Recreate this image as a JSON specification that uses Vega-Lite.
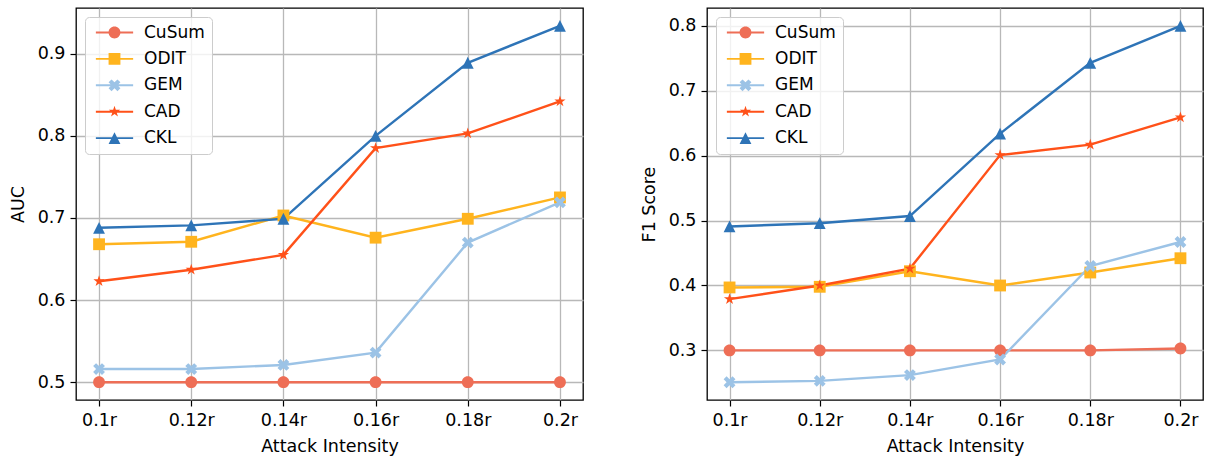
{
  "$schema": "https://vega.github.io/schema/vega-lite/v6.json",
  "padding": {"left": 8, "top": 7, "right": 8, "bottom": 2},
  "bounds": "flush",
  "spacing": 124,
  "data": {
    "values": [
      {"metric": "AUC", "intensity": "0.1r", "method": "CuSum", "value": 0.5},
      {"metric": "AUC", "intensity": "0.12r", "method": "CuSum", "value": 0.5},
      {"metric": "AUC", "intensity": "0.14r", "method": "CuSum", "value": 0.5},
      {"metric": "AUC", "intensity": "0.16r", "method": "CuSum", "value": 0.5},
      {"metric": "AUC", "intensity": "0.18r", "method": "CuSum", "value": 0.5},
      {"metric": "AUC", "intensity": "0.2r", "method": "CuSum", "value": 0.5},
      {"metric": "AUC", "intensity": "0.1r", "method": "ODIT", "value": 0.668},
      {"metric": "AUC", "intensity": "0.12r", "method": "ODIT", "value": 0.671},
      {"metric": "AUC", "intensity": "0.14r", "method": "ODIT", "value": 0.703},
      {"metric": "AUC", "intensity": "0.16r", "method": "ODIT", "value": 0.676},
      {"metric": "AUC", "intensity": "0.18r", "method": "ODIT", "value": 0.699},
      {"metric": "AUC", "intensity": "0.2r", "method": "ODIT", "value": 0.725},
      {"metric": "AUC", "intensity": "0.1r", "method": "GEM", "value": 0.516},
      {"metric": "AUC", "intensity": "0.12r", "method": "GEM", "value": 0.516},
      {"metric": "AUC", "intensity": "0.14r", "method": "GEM", "value": 0.521},
      {"metric": "AUC", "intensity": "0.16r", "method": "GEM", "value": 0.536},
      {"metric": "AUC", "intensity": "0.18r", "method": "GEM", "value": 0.670},
      {"metric": "AUC", "intensity": "0.2r", "method": "GEM", "value": 0.719},
      {"metric": "AUC", "intensity": "0.1r", "method": "CAD", "value": 0.623},
      {"metric": "AUC", "intensity": "0.12r", "method": "CAD", "value": 0.637},
      {"metric": "AUC", "intensity": "0.14r", "method": "CAD", "value": 0.655},
      {"metric": "AUC", "intensity": "0.16r", "method": "CAD", "value": 0.785},
      {"metric": "AUC", "intensity": "0.18r", "method": "CAD", "value": 0.803},
      {"metric": "AUC", "intensity": "0.2r", "method": "CAD", "value": 0.842},
      {"metric": "AUC", "intensity": "0.1r", "method": "CKL", "value": 0.688},
      {"metric": "AUC", "intensity": "0.12r", "method": "CKL", "value": 0.691},
      {"metric": "AUC", "intensity": "0.14r", "method": "CKL", "value": 0.699},
      {"metric": "AUC", "intensity": "0.16r", "method": "CKL", "value": 0.800},
      {"metric": "AUC", "intensity": "0.18r", "method": "CKL", "value": 0.889},
      {"metric": "AUC", "intensity": "0.2r", "method": "CKL", "value": 0.934},
      {"metric": "F1", "intensity": "0.1r", "method": "CuSum", "value": 0.300},
      {"metric": "F1", "intensity": "0.12r", "method": "CuSum", "value": 0.300},
      {"metric": "F1", "intensity": "0.14r", "method": "CuSum", "value": 0.300},
      {"metric": "F1", "intensity": "0.16r", "method": "CuSum", "value": 0.300},
      {"metric": "F1", "intensity": "0.18r", "method": "CuSum", "value": 0.300},
      {"metric": "F1", "intensity": "0.2r", "method": "CuSum", "value": 0.303},
      {"metric": "F1", "intensity": "0.1r", "method": "ODIT", "value": 0.397},
      {"metric": "F1", "intensity": "0.12r", "method": "ODIT", "value": 0.398},
      {"metric": "F1", "intensity": "0.14r", "method": "ODIT", "value": 0.422},
      {"metric": "F1", "intensity": "0.16r", "method": "ODIT", "value": 0.400},
      {"metric": "F1", "intensity": "0.18r", "method": "ODIT", "value": 0.420},
      {"metric": "F1", "intensity": "0.2r", "method": "ODIT", "value": 0.442},
      {"metric": "F1", "intensity": "0.1r", "method": "GEM", "value": 0.251},
      {"metric": "F1", "intensity": "0.12r", "method": "GEM", "value": 0.253},
      {"metric": "F1", "intensity": "0.14r", "method": "GEM", "value": 0.262},
      {"metric": "F1", "intensity": "0.16r", "method": "GEM", "value": 0.286},
      {"metric": "F1", "intensity": "0.18r", "method": "GEM", "value": 0.430},
      {"metric": "F1", "intensity": "0.2r", "method": "GEM", "value": 0.467},
      {"metric": "F1", "intensity": "0.1r", "method": "CAD", "value": 0.379},
      {"metric": "F1", "intensity": "0.12r", "method": "CAD", "value": 0.400},
      {"metric": "F1", "intensity": "0.14r", "method": "CAD", "value": 0.426},
      {"metric": "F1", "intensity": "0.16r", "method": "CAD", "value": 0.601},
      {"metric": "F1", "intensity": "0.18r", "method": "CAD", "value": 0.617},
      {"metric": "F1", "intensity": "0.2r", "method": "CAD", "value": 0.659},
      {"metric": "F1", "intensity": "0.1r", "method": "CKL", "value": 0.491},
      {"metric": "F1", "intensity": "0.12r", "method": "CKL", "value": 0.496},
      {"metric": "F1", "intensity": "0.14r", "method": "CKL", "value": 0.507},
      {"metric": "F1", "intensity": "0.16r", "method": "CKL", "value": 0.634},
      {"metric": "F1", "intensity": "0.18r", "method": "CKL", "value": 0.743},
      {"metric": "F1", "intensity": "0.2r", "method": "CKL", "value": 0.800}
    ]
  },
  "hconcat": [
    {
      "width": 507,
      "height": 392,
      "transform": [{"filter": "datum.metric === 'AUC'"}],
      "encoding": {
        "x": {
          "field": "intensity", "type": "ordinal",
          "sort": ["0.1r", "0.12r", "0.14r", "0.16r", "0.18r", "0.2r"],
          "scale": {"type": "point", "padding": 0.25},
          "axis": {"title": "Attack Intensity", "labelAngle": 0}
        },
        "y": {
          "field": "value", "type": "quantitative",
          "scale": {"domain": [0.4783, 0.9557], "nice": false, "zero": false},
          "axis": {"title": "AUC", "values": [0.5, 0.6, 0.7, 0.8, 0.9], "format": ".1f"}
        },
        "color": {
          "field": "method", "type": "nominal",
          "scale": {"domain": ["CuSum", "ODIT", "GEM", "CAD", "CKL"], "range": ["#EE6E56", "#FFB41E", "#9CC3E6", "#FF5119", "#2E74B7"]},
          "legend": {
            "title": null, "orient": "top-left", "offset": 9,
            "labelFontSize": 17, "labelColor": "black",
            "fillColor": "rgba(255,255,255,0.8)", "strokeColor": "#cccccc", "cornerRadius": 4,
            "padding": 7, "rowPadding": 8.4, "symbolSize": 140, "symbolStrokeWidth": 0,
            "symbolOpacity": 1, "symbolOffset": 14, "labelOffset": 21
          }
        }
      },
      "layer": [
        {
          "mark": {"type": "point", "filled": true, "opacity": 1, "size": 1, "strokeWidth": 0},
          "encoding": {
            "shape": {
              "field": "method", "type": "nominal",
              "scale": {
                "domain": ["CuSum", "ODIT", "GEM", "CAD", "CKL"],
                "range": [
                  "M-3.15,-0.16H3.15V0.16H-3.15ZM1,0A1,1,0,1,1,-1,0A1,1,0,1,1,1,0Z",
                  "M-3.15,-0.16H3.15V0.16H-3.15ZM-1,-1H1V1H-1Z",
                  "M-3.15,-0.16H3.15V0.16H-3.15ZM-0.5,-1L0,-0.5L0.5,-1L1,-0.5L0.5,0L1,0.5L0.5,1L0,0.5L-0.5,1L-1,0.5L-0.5,0L-1,-0.5Z",
                  "M-3.15,-0.16H3.15V0.16H-3.15ZM0,-1L0.2245,-0.309L0.9511,-0.309L0.3633,0.118L0.5878,0.809L0,0.382L-0.5878,0.809L-0.3633,0.118L-0.9511,-0.309L-0.2245,-0.309Z",
                  "M-3.15,-0.16H3.15V0.16H-3.15ZM0,-1L1,1L-1,1Z"
                ]
              }
            }
          }
        },
        {"mark": {"type": "line", "strokeWidth": 2.4}},
        {"transform": [{"filter": "datum.method === 'CuSum'"}], "mark": {"type": "point", "filled": true, "opacity": 1, "size": 140, "strokeWidth": 0, "shape": "M1,0A1,1,0,1,1,-1,0A1,1,0,1,1,1,0Z"}},
        {"transform": [{"filter": "datum.method === 'ODIT'"}], "mark": {"type": "point", "filled": true, "opacity": 1, "size": 140, "strokeWidth": 0, "shape": "M-1,-1H1V1H-1Z"}},
        {"transform": [{"filter": "datum.method === 'GEM'"}], "mark": {"type": "point", "filled": true, "opacity": 1, "size": 140, "strokeWidth": 0, "shape": "M-0.5,-1L0,-0.5L0.5,-1L1,-0.5L0.5,0L1,0.5L0.5,1L0,0.5L-0.5,1L-1,0.5L-0.5,0L-1,-0.5Z"}},
        {"transform": [{"filter": "datum.method === 'CAD'"}], "mark": {"type": "point", "filled": true, "opacity": 1, "size": 140, "strokeWidth": 0, "shape": "M0,-1L0.2245,-0.309L0.9511,-0.309L0.3633,0.118L0.5878,0.809L0,0.382L-0.5878,0.809L-0.3633,0.118L-0.9511,-0.309L-0.2245,-0.309Z"}},
        {"transform": [{"filter": "datum.method === 'CKL'"}], "mark": {"type": "point", "filled": true, "opacity": 1, "size": 140, "strokeWidth": 0, "shape": "M0,-1L1,1L-1,1Z"}}
      ]
    },
    {
      "width": 496,
      "height": 392,
      "transform": [{"filter": "datum.metric === 'F1'"}],
      "encoding": {
        "x": {
          "field": "intensity", "type": "ordinal",
          "sort": ["0.1r", "0.12r", "0.14r", "0.16r", "0.18r", "0.2r"],
          "scale": {"type": "point", "padding": 0.25},
          "axis": {"title": "Attack Intensity", "labelAngle": 0}
        },
        "y": {
          "field": "value", "type": "quantitative",
          "scale": {"domain": [0.2236, 0.8275], "nice": false, "zero": false},
          "axis": {"title": "F1 Score", "values": [0.3, 0.4, 0.5, 0.6, 0.7, 0.8], "format": ".1f"}
        },
        "color": {
          "field": "method", "type": "nominal",
          "scale": {"domain": ["CuSum", "ODIT", "GEM", "CAD", "CKL"], "range": ["#EE6E56", "#FFB41E", "#9CC3E6", "#FF5119", "#2E74B7"]},
          "legend": {
            "title": null, "orient": "top-left", "offset": 9,
            "labelFontSize": 17, "labelColor": "black",
            "fillColor": "rgba(255,255,255,0.8)", "strokeColor": "#cccccc", "cornerRadius": 4,
            "padding": 7, "rowPadding": 8.4, "symbolSize": 140, "symbolStrokeWidth": 0,
            "symbolOpacity": 1, "symbolOffset": 14, "labelOffset": 21
          }
        }
      },
      "layer": [
        {
          "mark": {"type": "point", "filled": true, "opacity": 1, "size": 1, "strokeWidth": 0},
          "encoding": {
            "shape": {
              "field": "method", "type": "nominal",
              "scale": {
                "domain": ["CuSum", "ODIT", "GEM", "CAD", "CKL"],
                "range": [
                  "M-3.15,-0.16H3.15V0.16H-3.15ZM1,0A1,1,0,1,1,-1,0A1,1,0,1,1,1,0Z",
                  "M-3.15,-0.16H3.15V0.16H-3.15ZM-1,-1H1V1H-1Z",
                  "M-3.15,-0.16H3.15V0.16H-3.15ZM-0.5,-1L0,-0.5L0.5,-1L1,-0.5L0.5,0L1,0.5L0.5,1L0,0.5L-0.5,1L-1,0.5L-0.5,0L-1,-0.5Z",
                  "M-3.15,-0.16H3.15V0.16H-3.15ZM0,-1L0.2245,-0.309L0.9511,-0.309L0.3633,0.118L0.5878,0.809L0,0.382L-0.5878,0.809L-0.3633,0.118L-0.9511,-0.309L-0.2245,-0.309Z",
                  "M-3.15,-0.16H3.15V0.16H-3.15ZM0,-1L1,1L-1,1Z"
                ]
              }
            }
          }
        },
        {"mark": {"type": "line", "strokeWidth": 2.4}},
        {"transform": [{"filter": "datum.method === 'CuSum'"}], "mark": {"type": "point", "filled": true, "opacity": 1, "size": 140, "strokeWidth": 0, "shape": "M1,0A1,1,0,1,1,-1,0A1,1,0,1,1,1,0Z"}},
        {"transform": [{"filter": "datum.method === 'ODIT'"}], "mark": {"type": "point", "filled": true, "opacity": 1, "size": 140, "strokeWidth": 0, "shape": "M-1,-1H1V1H-1Z"}},
        {"transform": [{"filter": "datum.method === 'GEM'"}], "mark": {"type": "point", "filled": true, "opacity": 1, "size": 140, "strokeWidth": 0, "shape": "M-0.5,-1L0,-0.5L0.5,-1L1,-0.5L0.5,0L1,0.5L0.5,1L0,0.5L-0.5,1L-1,0.5L-0.5,0L-1,-0.5Z"}},
        {"transform": [{"filter": "datum.method === 'CAD'"}], "mark": {"type": "point", "filled": true, "opacity": 1, "size": 140, "strokeWidth": 0, "shape": "M0,-1L0.2245,-0.309L0.9511,-0.309L0.3633,0.118L0.5878,0.809L0,0.382L-0.5878,0.809L-0.3633,0.118L-0.9511,-0.309L-0.2245,-0.309Z"}},
        {"transform": [{"filter": "datum.method === 'CKL'"}], "mark": {"type": "point", "filled": true, "opacity": 1, "size": 140, "strokeWidth": 0, "shape": "M0,-1L1,1L-1,1Z"}}
      ]
    }
  ],
  "resolve": {
    "scale": {"color": "independent", "shape": "independent"},
    "legend": {"color": "independent", "shape": "independent"}
  },
  "config": {
    "font": "DejaVu Sans",
    "view": {"stroke": "black", "strokeWidth": 1.3},
    "axis": {
      "labelFont": "DejaVu Sans", "labelFontSize": 17.5, "labelColor": "black",
      "titleFont": "DejaVu Sans", "titleFontSize": 17.5, "titleFontWeight": "normal", "titleColor": "black",
      "tickColor": "black", "tickSize": 6, "tickWidth": 1.2,
      "domain": false, "grid": true, "gridColor": "#b8b8b8", "gridWidth": 1.3,
      "labelPadding": 5
    },
    "axisY": {"titlePadding": 10},
    "axisX": {"titlePadding": 9},
    "legend": {"labelFont": "DejaVu Sans"}
  }
}
